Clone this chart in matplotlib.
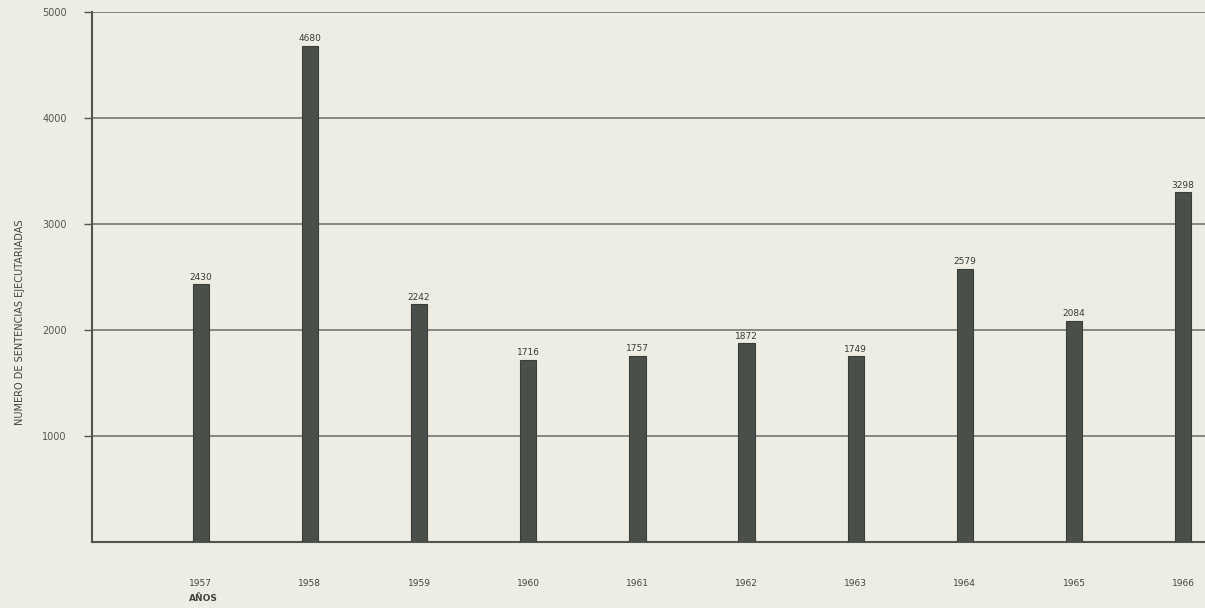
import matplotlib.pyplot as plt
import numpy as np

# data
years = ['1957', '1958', '1959', '1960', '1961', '1962', '1963', '1964', '1965', '1966']
sentencias = [2430, 4680, 2242, 1716, 1757, 1872, 1749, 2579, 2084, 3298]
yticks = [1000, 2000, 3000, 4000, 5000]
ytick_labels = ['1000', '2000', '3000', '4000', '5000']

paper = '#eeede4'
ink = '#4b4f49'

fig = plt.figure(figsize=(12.05, 6.08), dpi=100, facecolor=paper)
ax = fig.add_axes([0.076, 0.109, 0.924, 0.871], facecolor=paper)

x = np.arange(len(years))
ax.bar(x, sentencias, width=0.15, color=ink, edgecolor='#3a3d38', linewidth=0.8, zorder=3)

for xi, v in zip(x, sentencias):
    ax.text(xi, v + 25, str(v), ha='center', va='bottom', fontsize=6.5, color='#3a3a36', zorder=4)

ax.set_xlim(-1, 9.2)
ax.set_ylim(0, 5000)
ax.set_yticks(yticks)
ax.set_yticklabels(ytick_labels, fontsize=7, color='#555550')
ax.set_xticks(x)
ax.set_xticklabels(years, fontsize=6.5, color='#444440')
ax.tick_params(axis='x', length=0, pad=27)
ax.tick_params(axis='y', length=6, width=1, color='#555550', pad=12)

ax.grid(axis='y', color='#6a6b66', linewidth=1.1, zorder=1)
for s in ['top', 'right']:
    ax.spines[s].set_visible(False)
ax.spines['left'].set_color('#555550')
ax.spines['left'].set_linewidth(1.5)
ax.spines['bottom'].set_color('#555550')
ax.spines['bottom'].set_linewidth(1.5)

fig.text(0.017, 0.47, 'NUMERO DE SENTENCIAS EJECUTARIADAS', fontsize=7, color='#444440',
         rotation=90, ha='center', va='center', fontstretch='expanded')
fig.text(0.157, 0.012, 'AÑOS', fontsize=6.5, color='#444440', ha='left', weight='bold')

fig.savefig('out.png', dpi=100, facecolor=paper)
